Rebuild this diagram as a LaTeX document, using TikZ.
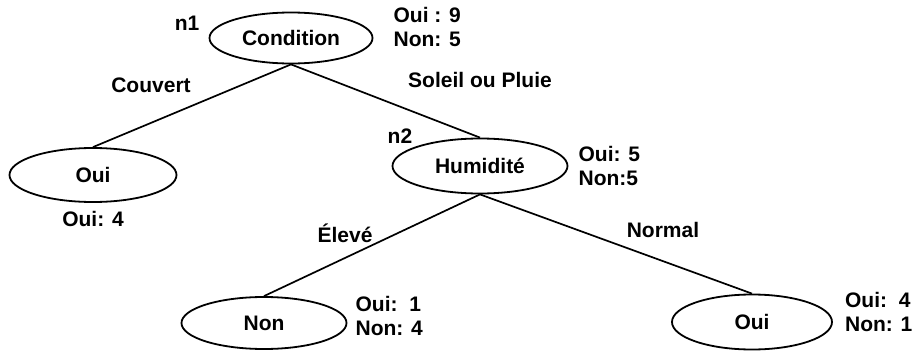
\documentclass[tikz,border=0pt]{standalone}
\usepackage{fontspec}
\setmainfont{Liberation Sans}
\usetikzlibrary{positioning, shapes.geometric}

\begin{document}
\begin{tikzpicture}[x=1pt, y=1pt,
        txt/.style={font=\fontsize{21}{24}\selectfont\bfseries},
        attr/.style={draw, ellipse, line width=1.8pt, inner sep=0pt, txt},
        lbl/.style={inner sep=0pt, txt},
        count/.style={lbl, align=left},
        branch/.style={line width=1.7pt}]
        \useasboundingbox (0,0) rectangle (914,-351);

        % Tree nodes
        \node[attr, minimum width=163pt, minimum height=51pt] (cond) at (291,-38) {Condition};
        \node[attr, minimum width=167pt, minimum height=54pt] (ouiA) at (93,-175) {Oui};
        \node[attr, minimum width=175pt, minimum height=55pt] (humid) at (480,-166) {Humidité};
        \node[attr, minimum width=165pt, minimum height=52pt] (non) at (264,-323) {Non};
        \node[attr, minimum width=160pt, minimum height=55pt] (ouiB) at (752,-322) {Oui};

        % Node names
        \node[lbl, left=9pt of cond.west, yshift=15pt] (n1) {n1};
        \node[lbl] (n2) at (400,-136) {n2};

        % Class counts
        \node[count, right=20pt of cond.east, yshift=11pt] (condcnt) {Oui : 9\\Non: 5};
        \node[count, right=10pt of humid.east] (humidcnt) {Oui: 5\\Non:5};
        \node[lbl, below=8pt of ouiA.south] (ouiAcnt) {Oui: 4};
        \node[count, right=8pt of non.east, yshift=7pt] (noncnt) {Oui:\ \ 1\\Non: 4};
        \node[count, right=12pt of ouiB.east, yshift=10pt] (ouiBcnt) {Oui:\ \ 4\\Non: 1};

        % Branch labels
        \node[lbl] (couvert) at (151,-85) {Couvert};
        \node[lbl] (soleil) at (480,-80) {Soleil ou Pluie};
        \node[lbl] (eleve) at (345,-233) {Élevé};
        \node[lbl] (normal) at (663,-230) {Normal};

        % Branches
        \draw[branch] (cond.south) -- (ouiA.north);
        \draw[branch] (cond.south) -- (humid.north);
        \draw[branch] (humid.south) -- (non.north);
        \draw[branch] (humid.south) -- (ouiB.north);
\end{tikzpicture}
\end{document}
